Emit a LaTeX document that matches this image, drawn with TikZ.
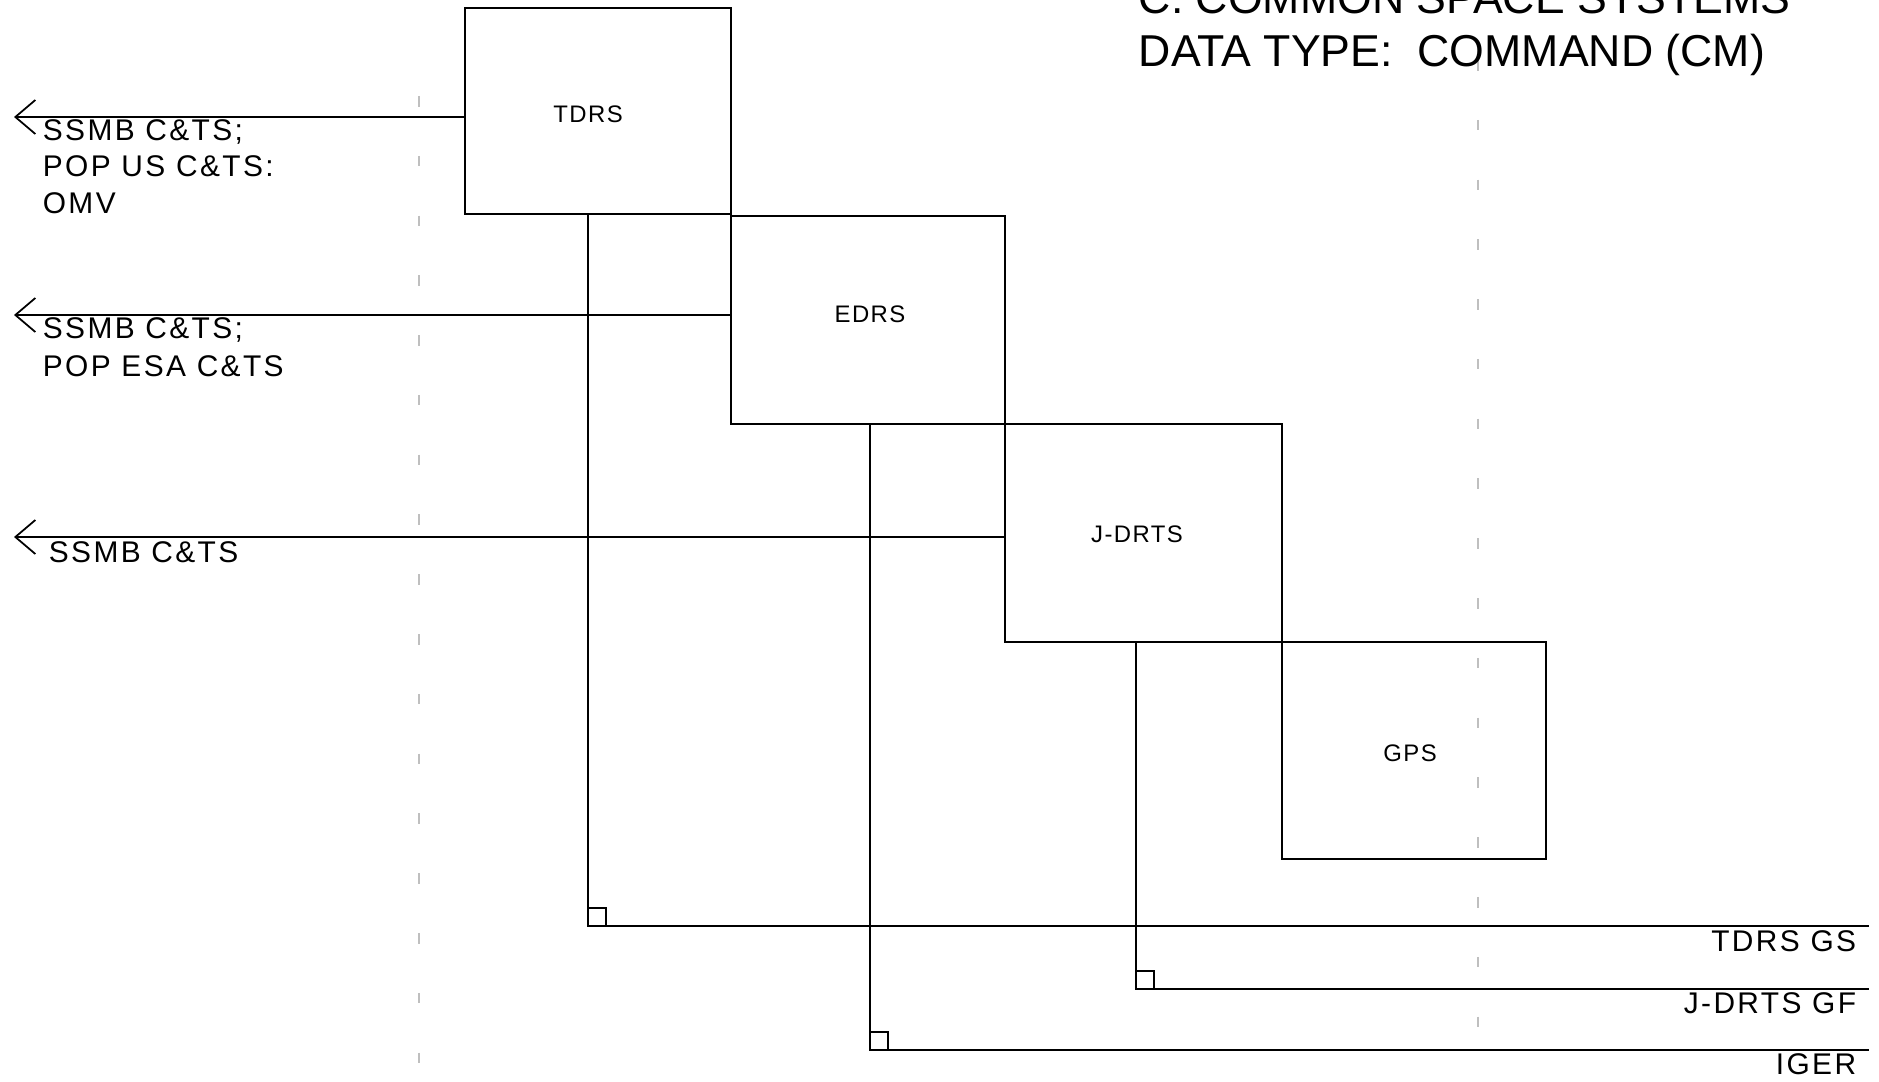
\documentclass[tikz,border=0pt]{standalone}
\usepackage{fontspec}
\setmainfont{Liberation Sans}
\newfontfamily\plotfont[LetterSpace=8]{Liberation Sans}
\newfontfamily\boxfont[LetterSpace=6]{Liberation Sans}
\usetikzlibrary{arrows.meta}
\begin{document}
\begin{tikzpicture}[x=0.01cm,y=-0.01cm,
  line width=0.5pt,
  sysbox/.style={draw,rectangle,inner sep=0pt},
  boxlbl/.style={inner sep=0pt,font=\boxfont\fontsize{6.8}{8}\selectfont},
  lbl/.style={inner sep=0pt,font=\plotfont\fontsize{8.5}{10}\selectfont},
  ttl/.style={inner sep=0pt,font=\fontsize{12.7}{15}\selectfont},
  outarrow/.style={-{Straight Barb[length=0.2cm,width=0.34cm]}},
  fold/.style={gray!50,line width=0.4pt,dash pattern=on 3pt off 14pt}]
\useasboundingbox (0,0) rectangle (1879,1082);
\clip (0,0) rectangle (1879,1082);
% faint fold marks
\draw[fold] (419,96) -- (419,1082);
\draw[fold] (1478,60) -- (1478,1040);
% boxes
\node[sysbox,minimum width=2.66cm,minimum height=2.06cm] (tdrs) at (598,111) {};
\node[sysbox,minimum width=2.74cm,minimum height=2.08cm] (edrs) at (868,320) {};
\node[sysbox,minimum width=2.77cm,minimum height=2.18cm] (jdrts) at (1143.5,533) {};
\node[sysbox,minimum width=2.64cm,minimum height=2.17cm] (gps) at (1414,750.5) {};
\node[boxlbl] (tdrsl) at (588,114) {TDRS};
\node[boxlbl] (edrsl) at (870,314) {EDRS};
\node[boxlbl] (jdrtsl) at (1137,534) {J-DRTS};
\node[boxlbl] (gpsl) at (1410,753) {GPS};
% title
\node[ttl,anchor=base west] (t1) at (1138,14) {C. COMMON SPACE SYSTEMS};
\node[ttl,anchor=base west] (t2) at (1138,67) {DATA TYPE:\ \ COMMAND (CM)};
% outgoing arrows to the left
\coordinate (a1) at (14,117);
\coordinate (a2) at (14,315);
\coordinate (a3) at (14,537);
\draw[outarrow] (tdrs.west |- a1) -- (a1);
\draw[outarrow] (edrs.west |- a2) -- (a2);
\draw[outarrow] (jdrts.west |- a3) -- (a3);
\node[lbl,anchor=base west] (l1a) at (42,140) {SSMB C\&TS;};
\node[lbl,anchor=base west] (l1b) at (42,177) {POP US C\&TS:};
\node[lbl,anchor=base west] (l1c) at (42,214) {OMV};
\node[lbl,anchor=base west] (l2a) at (42,338) {SSMB C\&TS;};
\node[lbl,anchor=base west] (l2b) at (42,376) {POP ESA C\&TS};
\node[lbl,anchor=base west] (l3a) at (48,562) {SSMB C\&TS};
% outgoing lines to the right
\coordinate (c1) at (588,926);
\coordinate (c2) at (1136,989);
\coordinate (c3) at (870,1050);
\coordinate (e1) at (1869,926);
\coordinate (e2) at (1869,989);
\coordinate (e3) at (1869,1050);
\draw (tdrs.south -| c1) -- (c1) -- (e1);
\draw (jdrts.south -| c2) -- (c2) -- (e2);
\draw (edrs.south -| c3) -- (c3) -- (e3);
\draw (c1) ++(0,-18) -| ++(18,18);
\draw (c2) ++(0,-18) -| ++(18,18);
\draw (c3) ++(0,-18) -| ++(18,18);
\node[lbl,anchor=base east] (r1) at (1857,951) {TDRS GS};
\node[lbl,anchor=base east] (r2) at (1857,1013) {J-DRTS GF};
\node[lbl,anchor=base east] (r3) at (1857,1074) {IGER};
\end{tikzpicture}
\end{document}
